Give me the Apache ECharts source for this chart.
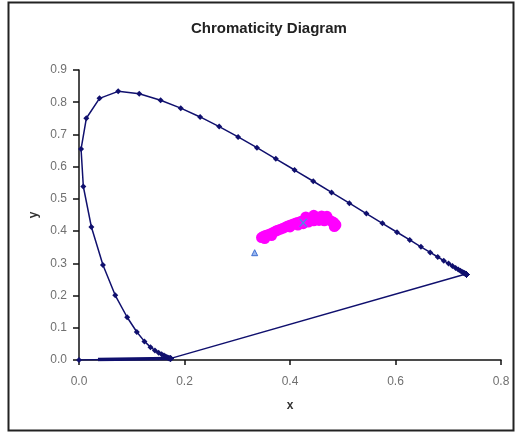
<!DOCTYPE html>
<html>
<head>
<meta charset="utf-8">
<script src="https://cdn.jsdelivr.net/npm/echarts@6/dist/echarts.min.js"></script>
<style>
html,body{margin:0;padding:0;background:#fff;}
#chart{width:517px;height:437px;}
</style>
</head>
<body>
<div id="chart"></div>
<script>
// Spectral locus (380-780 nm, 5 nm steps), x and y chromaticity
const locusX = [0.1741,0.1740,0.1738,0.1736,0.1733,0.1730,0.1726,0.1721,0.1714,0.1703,0.1689,0.1669,0.1644,0.1611,0.1566,0.1510,0.1440,0.1355,0.1241,0.1096,0.0913,0.0687,0.0454,0.0235,0.0082,0.0039,0.0139,0.0389,0.0743,0.1142,0.1547,0.1929,0.2296,0.2658,0.3016,0.3373,0.3731,0.4087,0.4441,0.4788,0.5125,0.5448,0.5752,0.6029,0.6270,0.6482,0.6658,0.6801,0.6915,0.7006,0.7079,0.7140,0.7190,0.7230,0.7260,0.7283,0.7300,0.7311,0.7320,0.7327,0.7334,0.7340,0.7344,0.7346,0.7347,0.7347,0.7347,0.7347,0.7347,0.7347,0.7347,0.7347,0.7347,0.7347,0.7347,0.7347,0.7347,0.7347,0.7347,0.7347,0.7347,0.1741];
const locusY = [0.0050,0.0050,0.0049,0.0049,0.0048,0.0048,0.0048,0.0048,0.0051,0.0058,0.0069,0.0086,0.0109,0.0138,0.0177,0.0227,0.0297,0.0399,0.0578,0.0868,0.1327,0.2007,0.2950,0.4127,0.5384,0.6548,0.7502,0.8120,0.8338,0.8262,0.8059,0.7816,0.7543,0.7243,0.6923,0.6589,0.6245,0.5896,0.5547,0.5202,0.4866,0.4544,0.4242,0.3965,0.3725,0.3514,0.3340,0.3197,0.3083,0.2993,0.2920,0.2859,0.2809,0.2770,0.2740,0.2717,0.2700,0.2689,0.2680,0.2673,0.2666,0.2660,0.2656,0.2654,0.2653,0.2653,0.2653,0.2653,0.2653,0.2653,0.2653,0.2653,0.2653,0.2653,0.2653,0.2653,0.2653,0.2653,0.2653,0.2653,0.2653,0.0050];
// Base line along y = 0
const baseX = [0.0, 0.1741];
const baseY = [0.0, 0.0050];
const baseThickX = [0.036, 0.172];
const baseThickY = [0.0015, 0.0045];
// Measured sample chromaticities (magenta cluster)
const sampleX = [0.346,0.349,0.353,0.358,0.363,0.368,0.373,0.377,0.382,0.387,0.392,0.396,0.401,0.406,0.411,0.415,0.420,0.425,0.430,0.434,0.439,0.444,0.449,0.453,0.458,0.463,0.468,0.472,0.477,0.482,0.485,0.487,0.460,0.470,0.445,0.430,0.352,0.365,0.415,0.425,0.435,0.445,0.455,0.465,0.484,0.400];
const sampleY = [0.380,0.383,0.386,0.389,0.392,0.396,0.400,0.403,0.406,0.409,0.413,0.416,0.419,0.422,0.425,0.427,0.430,0.433,0.436,0.438,0.440,0.442,0.443,0.443,0.442,0.441,0.439,0.436,0.432,0.428,0.423,0.419,0.447,0.446,0.449,0.444,0.377,0.386,0.419,0.423,0.428,0.432,0.433,0.432,0.414,0.413];
// Mean / reference marker inside cluster
const meanX = [0.425];
const meanY = [0.426];
// Equal-energy white point
const whiteX = [0.333];
const whiteY = [0.333];
// Axis tick settings
const xTicks = {min: 0, max: 0.8, step: 0.2};
const yTicks = {min: 0, max: 0.9, step: 0.1};

const zip = (a, b) => a.map((v, i) => [v, b[i]]);
const NAVY = '#10106e';

const chart = echarts.init(document.getElementById('chart'), null, {renderer: 'canvas'});
chart.setOption({
  backgroundColor: '#fff',
  animation: false,
  title: {
    text: 'Chromaticity Diagram',
    left: 186, top: 16,
    textStyle: {fontFamily: 'Liberation Sans, Arial', fontSize: 15, fontWeight: 'bold', color: '#222'}
  },
  graphic: [{
    type: 'rect', shape: {x: 8.5, y: 2.5, width: 505, height: 428},
    style: {fill: 'none', stroke: '#222', lineWidth: 2}, silent: true, z: -1
  }],
  grid: {left: 79, right: 16, top: 70, bottom: 77},
  xAxis: {
    type: 'value', min: xTicks.min, max: xTicks.max, interval: xTicks.step,
    name: 'x', nameLocation: 'middle', nameGap: 40,
    nameTextStyle: {fontFamily: 'Liberation Sans, Arial', fontSize: 12, fontWeight: 'bold', color: '#333'},
    axisLine: {lineStyle: {color: '#111', width: 1.5}},
    axisTick: {show: true, inside: false, length: 5, lineStyle: {color: '#111', width: 1.5}},
    splitLine: {show: false},
    axisLabel: {margin: 16, formatter: v => v.toFixed(1), fontFamily: 'Liberation Sans, Arial', fontSize: 12, color: '#707070'}
  },
  yAxis: {
    type: 'value', min: yTicks.min, max: yTicks.max, interval: yTicks.step,
    name: 'y', nameLocation: 'middle', nameGap: 12, nameRotate: 90,
    nameTextStyle: {fontFamily: 'Liberation Sans, Arial', fontSize: 12, fontWeight: 'bold', color: '#333'},
    axisLine: {lineStyle: {color: '#111', width: 1.5}},
    axisTick: {show: true, inside: false, length: 6, lineStyle: {color: '#111', width: 1.5}},
    splitLine: {show: false},
    axisLabel: {margin: 12, formatter: v => v.toFixed(1), fontFamily: 'Liberation Sans, Arial', fontSize: 12, color: '#707070'}
  },
  series: [
    {
      type: 'line', data: zip(baseThickX, baseThickY), showSymbol: false, symbol: 'none',
      lineStyle: {color: NAVY, width: 3.5}, z: 3
    },
    {
      type: 'line', data: zip(baseX, baseY), symbol: 'diamond', symbolSize: 6,
      itemStyle: {color: NAVY}, lineStyle: {color: NAVY, width: 1.5}, z: 3
    },
    {
      type: 'line', data: zip(locusX, locusY), symbol: 'diamond', symbolSize: 6,
      itemStyle: {color: NAVY}, lineStyle: {color: NAVY, width: 1.5}, z: 3
    },
    {
      type: 'scatter', data: zip(sampleX, sampleY), symbol: 'circle', symbolSize: 11,
      itemStyle: {color: '#ff00ff', opacity: 1}, z: 4
    },
    {
      type: 'scatter', data: zip(meanX, meanY),
      symbol: 'path://M0,0 L2,0 L5,3 L8,0 L10,0 L6,4 L10,8 L8,8 L5,5 L2,8 L0,8 L4,4 Z',
      symbolSize: [9, 8], itemStyle: {color: '#4f86e8', opacity: 1}, z: 6
    },
    {
      type: 'scatter', data: zip(whiteX, whiteY), symbol: 'triangle', symbolSize: 6,
      itemStyle: {color: '#9bb8f0', borderColor: '#3f6fd0', borderWidth: 1, opacity: 1}, z: 5
    }
  ]
});
</script>
</body>
</html>
